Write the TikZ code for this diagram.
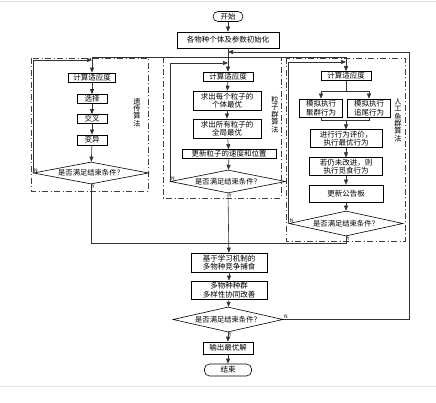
\documentclass[tikz,border=0pt]{standalone}
\usepackage{fontspec}
\setmainfont{Noto Sans CJK SC}
\usepackage{tikz}
\usetikzlibrary{shapes.geometric, arrows.meta, positioning, calc}

\begin{document}
\begin{tikzpicture}[x=1pt, y=-1pt,
    box/.style={rectangle, draw=black, line width=0.6pt, fill=white, inner xsep=2pt, inner ysep=1pt, align=center, font=\fontsize{7.5}{8.6}\selectfont},
    term/.style={box, rounded corners=5pt},
    cond/.style={diamond, draw=black, line width=0.6pt, fill=white, aspect=4.7, inner sep=0pt, minimum width=114pt, minimum height=24pt, font=\fontsize{7.3}{8}\selectfont},
    panel/.style={draw=black!75, line width=0.6pt, dash pattern=on 6pt off 2.5pt on 1pt off 2.5pt},
    tag/.style={font=\fontsize{7.2}{7.4}\selectfont, align=center, inner sep=0pt},
    yn/.style={font=\fontsize{5}{5}\selectfont, inner sep=0.6pt},
    arrow/.style={line width=0.6pt, ->, >={Triangle[length=5pt, width=4pt]}, draw=black!80},
    line/.style={line width=0.6pt, draw=black!80}
]
    \fill[white] (0,0) rectangle (436,403);
    \useasboundingbox (0,0) rectangle (436,403);
    \draw[blue!30!gray!20] (0,1.5) -- (436,1.5);
    \draw[blue!30!gray!20] (0,386) -- (436,386);

    % Frames
    \draw[panel] (31,58) rectangle (148,191);
    \draw[panel] (163,57) rectangle (281,198);
    \draw[panel] (286,58) rectangle (405,241);

    % Nodes
    \node[term, minimum width=30pt, minimum height=10pt] (start) at (228,16.5) {开始};
    \node[box, minimum width=102pt, minimum height=16pt] (init) at (228,40) {各物种个体及参数初始化};

    \node[box, minimum width=47pt, minimum height=9pt] (gaFit) at (92,77.5) {计算适应度};
    \node[box, minimum width=30pt, minimum height=9pt] (gaSel) at (92,99) {选择};
    \node[box, minimum width=30pt, minimum height=9pt] (gaCross) at (92,119) {交叉};
    \node[box, minimum width=30pt, minimum height=10pt] (gaMut) at (92,140) {变异};
    \node[cond, minimum width=115pt, minimum height=22pt] (gaDec) at (91,173) {是否满足结束条件？};
    \node[tag] (gaTag) at (137,112.5) {遗\\传\\算\\法};

    \node[box, minimum width=50pt, minimum height=9pt] (psoFit) at (228,76.5) {计算适应度};
    \node[box, minimum width=68pt, minimum height=19pt] (psoPbest) at (227,100.5) {求出每个粒子的\\个体最优};
    \node[box, minimum width=68pt, minimum height=19pt] (psoGbest) at (227,128.5) {求出所有粒子的\\全局最优};
    \node[box, minimum width=94pt, minimum height=9pt] (psoUpd) at (229,154) {更新粒子的速度和位置};
    \node[cond, minimum width=115pt, minimum height=23pt] (psoDec) at (228,181.5) {是否满足结束条件？};
    \node[tag] (psoTag) at (275,114.5) {粒\\子\\群\\算\\法};

    \node[box, minimum width=50pt, minimum height=9pt] (fishFit) at (346,76) {计算适应度};
    \node[box, minimum width=43pt, minimum height=18pt] (fishSwarm) at (321,108) {模拟执行\\聚群行为};
    \node[box, minimum width=43pt, minimum height=18pt] (fishFollow) at (369,108) {模拟执行\\追尾行为};
    \node[box, minimum width=72pt, minimum height=17pt] (fishEval) at (346,138.5) {进行行为评价，\\执行最优行为};
    \node[box, minimum width=73pt, minimum height=17pt] (fishPrey) at (346,166.5) {若仍未改进，则\\执行觅食行为};
    \node[box, minimum width=74pt, minimum height=17pt] (fishBoard) at (346,193.5) {更新公告板};
    \node[cond, minimum width=114pt, minimum height=25pt] (fishDec) at (346,223.5) {是否满足结束条件？};
    \node[tag] (fishTag) at (398,120) {人\\工\\鱼\\群\\算\\法};

    \node[box, minimum width=76pt, minimum height=19pt] (learn) at (229,262.5) {基于学习机制的\\多物种竞争捕食};
    \node[box, minimum width=76pt, minimum height=18pt] (diverse) at (229,290) {多物种种群\\多样性协同改善};
    \node[cond, minimum width=110pt, minimum height=25pt] (finDec) at (228,319.5) {是否满足结束条件？};
    \node[box, minimum width=50pt, minimum height=12pt] (best) at (228,348) {输出最优解};
    \node[term, minimum width=47pt, minimum height=12pt] (stop) at (228,370) {结束};

    % Coordinates
    \coordinate (reEntry) at (228,52);
    \coordinate (fork) at (228,57);
    \coordinate (gaBack) at (92,60);
    \coordinate (psoBack) at (228,63);
    \coordinate (fishBack) at (346,62);
    \coordinate (fishSplit) at (346,91);
    \coordinate (fishJoin) at (346,120);
    \coordinate (merge) at (228,243);
    \coordinate (outer) at (409,319.5);

    % Paths
    \draw[arrow] (start) -- (init);
    \draw[arrow] (init) -- (psoFit);
    \draw[arrow] (fork) -| (gaFit);
    \draw[arrow] (fork) -| (fishFit);

    \draw[arrow] (gaFit) -- (gaSel);
    \draw[arrow] (gaSel) -- (gaCross);
    \draw[arrow] (gaCross) -- (gaMut);
    \draw[arrow] (gaMut) -- (gaDec);
    \draw[arrow] (gaDec.west) |- (gaBack);

    \draw[arrow] (psoFit) -- (psoPbest);
    \draw[arrow] (psoPbest) -- (psoGbest);
    \draw[arrow] (psoGbest) -- (psoUpd);
    \draw[arrow] (psoUpd) -- (psoDec);
    \draw[arrow] (psoDec.west) |- (psoBack);

    \draw[line] (fishFit) -- (fishSplit);
    \draw[arrow] (fishSplit) -| (fishSwarm);
    \draw[arrow] (fishSplit) -| (fishFollow);
    \draw[line] (fishSwarm.south) |- (fishJoin);
    \draw[line] (fishFollow.south) |- (fishJoin);
    \draw[arrow] (fishJoin) -- (fishEval);
    \draw[arrow] (fishEval) -- (fishPrey);
    \draw[arrow] (fishPrey) -- (fishBoard);
    \draw[arrow] (fishBoard) -- (fishDec);
    \draw[arrow] (fishDec.west) |- (fishBack);

    \draw[line] (gaDec.south) |- (merge);
    \draw[line] (fishDec.south) |- (merge);
    \draw[arrow] (psoDec.south) -- (learn);
    \draw[arrow] (learn) -- (diverse);
    \draw[arrow] (diverse) -- (finDec);
    \draw[arrow] (finDec) -- (best);
    \draw[arrow] (best) -- (stop);
    \draw[arrow] (finDec.east) -- (outer) |- (reEntry);

    % Labels
    \node[yn, above right] at (gaDec.west) {N};
    \node[yn, below right] at (gaDec.south) {Y};
    \node[yn, above right] at (psoDec.west) {N};
    \node[yn, below right] at (psoDec.south) {Y};
    \node[yn, above right] at (fishDec.west) {N};
    \node[yn, below right] at (fishDec.south) {Y};
    \node[yn, above right] at (finDec.east) {N};
    \node[yn, below right] at (finDec.south) {Y};
\end{tikzpicture}
\end{document}
